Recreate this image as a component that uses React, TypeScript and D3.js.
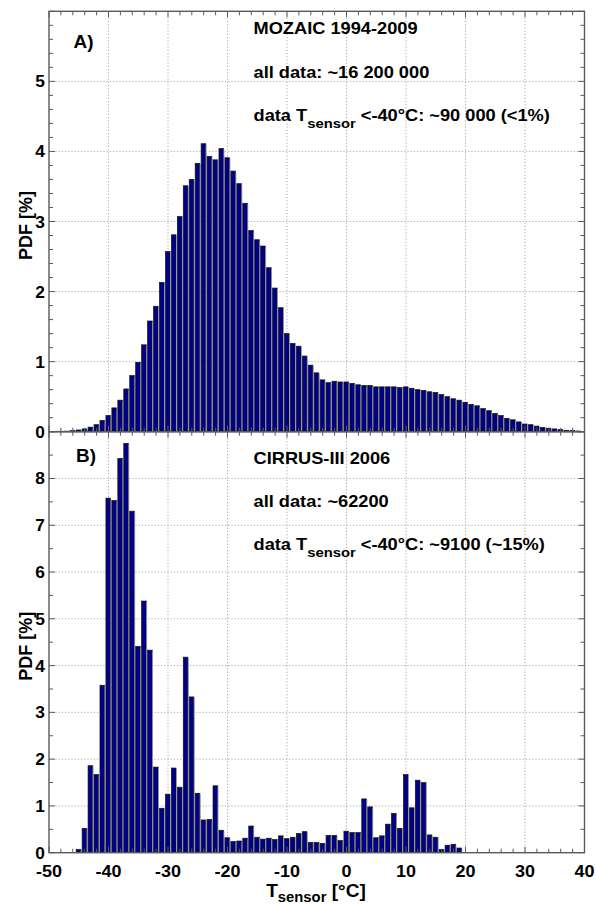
import * as d3 from 'd3';

// bin centres (1 °C bins) and PDF values in %
const mozaicStart = -49;
const mozaicPdf = [
  0.005, 0.006, 0.008, 0.015, 0.025, 0.04, 0.065, 0.1, 0.16, 0.23,
  0.34, 0.45, 0.61, 0.8, 0.99, 1.24, 1.58, 1.79, 2.13, 2.57,
  2.81, 3.07, 3.51, 3.6, 3.83, 4.11, 3.93, 3.88, 4.04, 3.91,
  3.72, 3.54, 3.26, 2.87, 2.74, 2.65, 2.34, 2.05, 1.77, 1.4,
  1.26, 1.22, 1.08, 0.95, 0.84, 0.74, 0.7, 0.72, 0.71, 0.71,
  0.69, 0.67, 0.66, 0.66, 0.64, 0.64, 0.64, 0.64, 0.63, 0.64,
  0.62, 0.6, 0.59, 0.57, 0.56, 0.53, 0.5, 0.47, 0.45, 0.42,
  0.39, 0.37, 0.33, 0.3, 0.26, 0.23, 0.19, 0.17, 0.14, 0.11,
  0.1, 0.08, 0.06, 0.05, 0.04, 0.03, 0.02, 0.015, 0.01,
];

const cirrusStart = -45;
const cirrusPdf = [
  0.07, 0.52, 1.86, 1.67, 3.58, 7.58, 7.53, 8.43, 8.75, 7.3,
  4.41, 5.38, 4.33, 1.83, 0.95, 1.25, 1.81, 1.4, 4.18, 3.33,
  1.27, 0.7, 0.71, 1.43, 0.48, 0.32, 0.24, 0.25, 0.31, 0.57,
  0.33, 0.29, 0.31, 0.28, 0.36, 0.3, 0.33, 0.41, 0.45, 0.22,
  0.22, 0.2, 0.37, 0.37, 0.26, 0.46, 0.43, 0.43, 1.15, 0.98,
  0.32, 0.36, 0.61, 0.84, 0.52, 1.67, 0.96, 1.55, 1.5, 0.38,
  0.33, 0.07, 0.16, 0.18, 0.1,
];

const xTicks = [-50, -40, -30, -20, -10, 0, 10, 20, 30, 40];
const mozaicYTicks = [0, 1, 2, 3, 4, 5];
const cirrusYTicks = [0, 1, 2, 3, 4, 5, 6, 7, 8];

const W = 596;
const H = 904;
const FONT = "'Liberation Sans', Arial, sans-serif";
const BAR = '#000088';
const GRID = '#aaaaaa';
const FRAME = '#5a5a5a';

const x = d3.scaleLinear().domain([-50, 40]).range([49, 584.5]);

function Txt({ x, y, s = 16, sx = 1.14, anchor = 'start', children }: any) {
  return (
    <text
      transform={`translate(${x},${y}) scale(${sx},1)`}
      fontSize={s}
      fontWeight="bold"
      fontFamily={FONT}
      textAnchor={anchor}
      fill="#000"
    >
      {children}
    </text>
  );
}

function Panel({ top, bottom, ymax, minor, yTicks, start, values, tag, tagX, tagY, lines, lineY }: any) {
  const y = d3.scaleLinear().domain([0, ymax]).range([bottom, top]);
  const [x0, x1] = x.range();
  const minorY = d3.range(0, ymax + 1e-6, minor);
  const minorX = d3.range(-50, 40.01, 2);
  const bars = values.map((v: number, i: number) => ({ t: start + i, v }));
  return (
    <g>
      {/* grid */}
      {xTicks.slice(1, -1).map(t => (
        <line key={'gx' + t} x1={x(t)} x2={x(t)} y1={top} y2={bottom} stroke={GRID} strokeDasharray="1.2,2" />
      ))}
      {yTicks.slice(1).map((t: number) => (
        <line key={'gy' + t} x1={x0} x2={x1} y1={y(t)} y2={y(t)} stroke={GRID} strokeDasharray="1.2,2" />
      ))}
      {/* bars */}
      {bars.map((d: any) => {
        const l = x(d.t - 0.5);
        const r = x(d.t + 0.5);
        const yv = y(d.v);
        return (
          <g key={d.t}>
            <rect x={l + 0.4} y={yv} width={r - l - 1.3} height={bottom - yv} fill={BAR} stroke="#151515" strokeWidth={0.7} />
            <rect x={r - 0.9} y={Math.min(yv + 1, bottom)} width={0.8} height={Math.max(bottom - yv - 1, 0)} fill="#9a9a9a" />
          </g>
        );
      })}
      {/* ticks */}
      {minorY.map((t: number, i: number) => {
        const len = Math.abs(t - Math.round(t)) < 1e-6 ? 6 : 4;
        return (
          <g key={'ty' + i}>
            <line x1={x0} x2={x0 + len} y1={y(t)} y2={y(t)} stroke={FRAME} />
            <line x1={x1} x2={x1 - len} y1={y(t)} y2={y(t)} stroke={FRAME} />
          </g>
        );
      })}
      {minorX.map((t: number, i: number) => {
        const len = t % 10 === 0 ? 6 : 4;
        return (
          <g key={'tx' + i}>
            <line x1={x(t)} x2={x(t)} y1={bottom} y2={bottom - len} stroke={FRAME} />
            <line x1={x(t)} x2={x(t)} y1={top} y2={top + len} stroke={FRAME} />
          </g>
        );
      })}
      <rect x={x0} y={top} width={x1 - x0} height={bottom - top} fill="none" stroke={FRAME} strokeWidth={1.4} />
      {/* y labels */}
      {yTicks.map((t: number) => (
        <Txt key={'ly' + t} x={45} y={y(t) + 6} s={16.5} sx={1.05} anchor="end">{t}</Txt>
      ))}
      <text
        transform={`translate(32,${(top + bottom) / 2 + 4}) rotate(-90)`}
        fontSize={18}
        fontWeight="bold"
        fontFamily={FONT}
        textAnchor="middle"
      >
        PDF [%]
      </text>
      {/* annotations */}
      <Txt x={tagX} y={tagY} s={17.5} sx={1.08}>{tag}</Txt>
      <Txt x={253.5} y={lineY[0]}>{lines[0]}</Txt>
      <Txt x={253.5} y={lineY[1]}>{lines[1]}</Txt>
      <Txt x={253.5} y={lineY[2]}>
        data T<tspan fontSize={13} dy={7}>sensor</tspan>
        <tspan dy={-7}> {lines[2]}</tspan>
      </Txt>
    </g>
  );
}

export default function App() {
  return (
    <svg width={W} height={H} style={{ position: 'absolute', left: 0, top: 0, background: '#fff' }}>
      <rect width={W} height={H} fill="#fff" />
      <Panel
        top={11.3}
        bottom={431.7}
        ymax={6}
        minor={0.2}
        yTicks={mozaicYTicks}
        start={mozaicStart}
        values={mozaicPdf}
        tag="A)"
        tagX={73.5}
        tagY={48}
        lines={['MOZAIC 1994-2009', 'all data: ~16 200 000', '<-40°C: ~90 000 (<1%)']}
        lineY={[34.3, 78, 121]}
      />
      <Panel
        top={431.7}
        bottom={852.7}
        ymax={9}
        minor={0.5}
        yTicks={cirrusYTicks}
        start={cirrusStart}
        values={cirrusPdf}
        tag="B)"
        tagX={76}
        tagY={462}
        lines={['CIRRUS-III 2006', 'all data: ~62200', '<-40°C: ~9100 (~15%)']}
        lineY={[464, 507, 550]}
      />
      {xTicks.map(t => (
        <Txt key={'lx' + t} x={x(t)} y={877} s={17} sx={1.06} anchor="middle">{t}</Txt>
      ))}
      <Txt x={316} y={897} s={18} sx={1.06} anchor="middle">
        T<tspan fontSize={14} dy={5}>sensor</tspan>
        <tspan dy={-5}> [°C]</tspan>
      </Txt>
    </svg>
  );
}
